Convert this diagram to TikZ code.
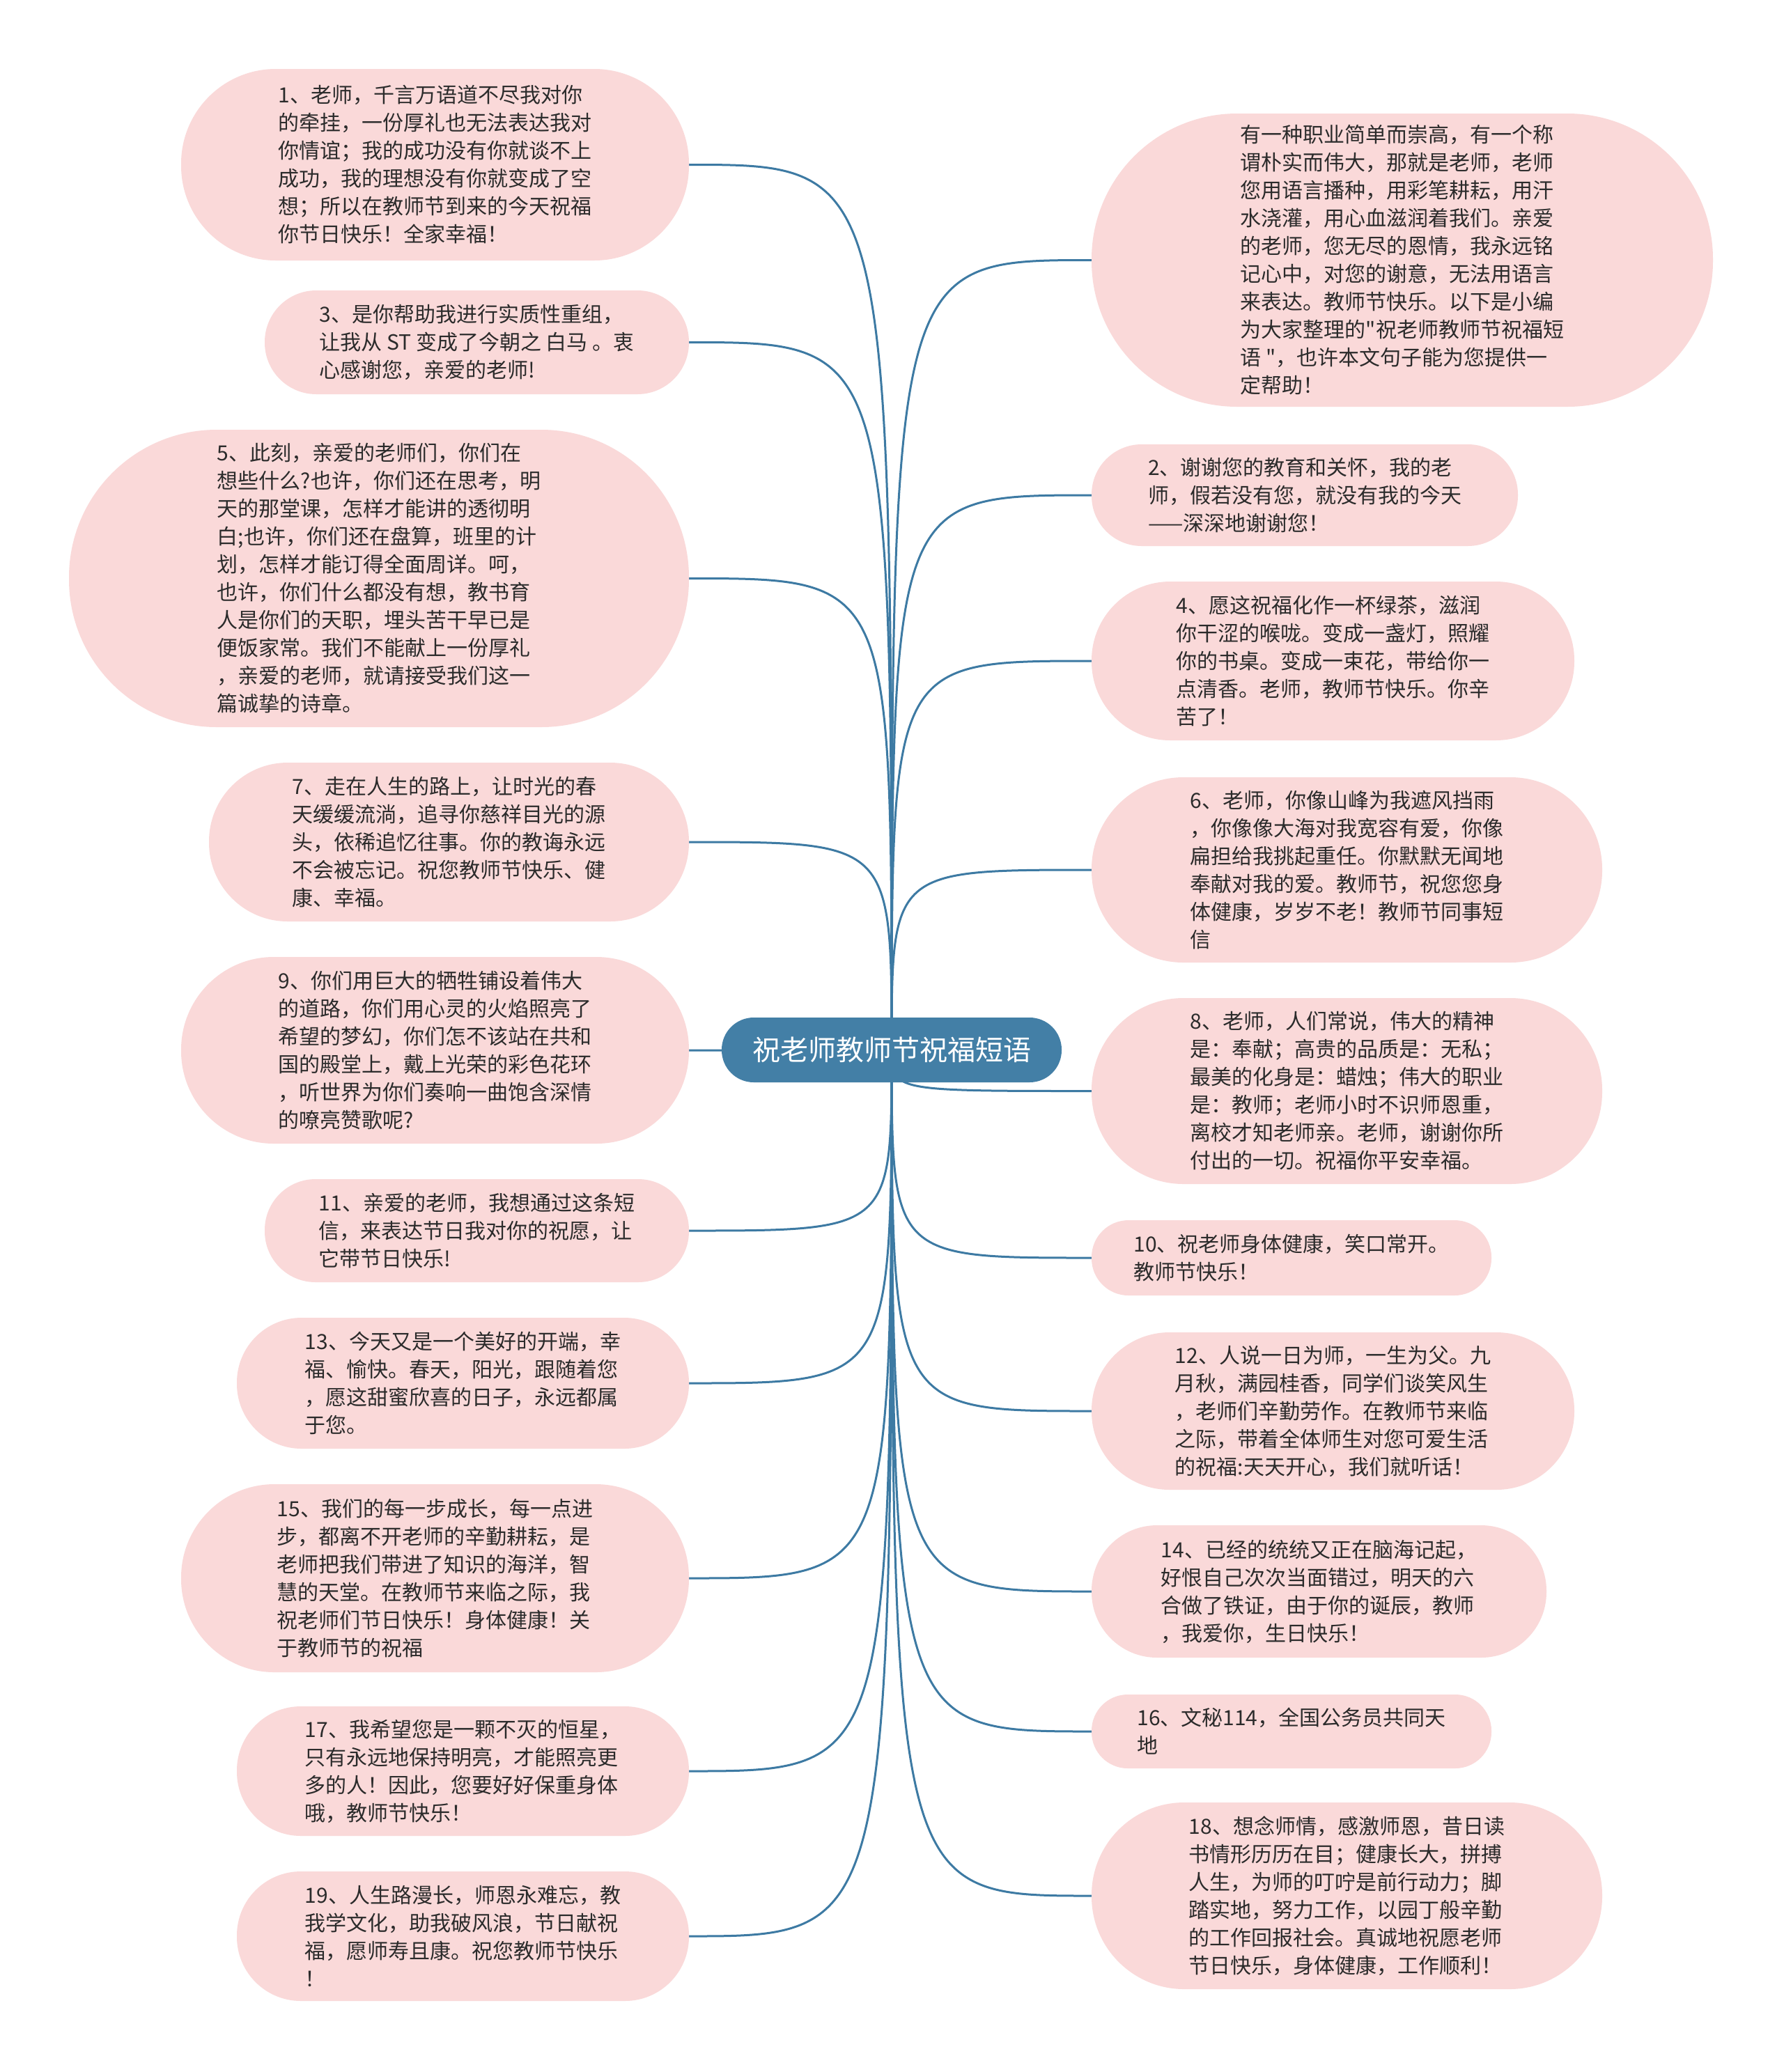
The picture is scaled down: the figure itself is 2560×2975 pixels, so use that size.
\documentclass[tikz,border=0pt]{standalone}
\usepackage{fontspec}
\newfontfamily\cjkf{Noto Sans CJK SC}
\usetikzlibrary{backgrounds}
\definecolor{pinkfill}{HTML}{FAD9D9}
\definecolor{rootfill}{HTML}{437FA6}
\definecolor{linecol}{HTML}{3D7AA3}
\definecolor{txt}{HTML}{2B2B2B}
\tikzset{
  leaf/.style={fill=pinkfill, draw=none, inner sep=0pt, align=left, text=txt,
    font=\cjkf\fontsize{30}{40}\selectfont},
  rootbox/.style={fill=rootfill, draw=none, inner sep=0pt, text=white,
    font=\cjkf\fontsize{40}{48}\selectfont, minimum width=488pt, minimum height=93pt, rounded corners=46pt},
  conn/.style={draw=linecol, line width=3pt}
}
\begin{document}
\begin{tikzpicture}[x=1pt,y=-1pt]
\useasboundingbox (0,0) rectangle (2560,2975);
% central
\node[rootbox] (root) at (1280,1507.5) {祝老师教师节祝福短语};
% left column
\node[leaf, minimum width=729pt, minimum height=275pt, rounded corners=136pt] (n1) at (624.5,236.5) {1、老师，千言万语道不尽我对你\\的牵挂，一份厚礼也无法表达我对\\你情谊；我的成功没有你就谈不上\\成功，我的理想没有你就变成了空\\想；所以在教师节到来的今天祝福\\你节日快乐！全家幸福！};
\node[leaf, minimum width=609pt, minimum height=149pt, rounded corners=74pt] (n3) at (684.5,491.5) {3、是你帮助我进行实质性重组，\\让我从 ST 变成了今朝之 白马 。衷\\心感谢您，亲爱的老师!};
\node[leaf, minimum width=890pt, minimum height=427pt, rounded corners=212pt] (n5) at (544,830.5) {5、此刻，亲爱的老师们，你们在\\想些什么?也许，你们还在思考，明\\天的那堂课，怎样才能讲的透彻明\\白;也许，你们还在盘算，班里的计\\划，怎样才能订得全面周详。呵，\\也许，你们什么都没有想，教书育\\人是你们的天职，埋头苦干早已是\\便饭家常。我们不能献上一份厚礼\\，亲爱的老师，就请接受我们这一\\篇诚挚的诗章。};
\node[leaf, minimum width=689pt, minimum height=228pt, rounded corners=113pt] (n7) at (644.5,1209) {7、走在人生的路上，让时光的春\\天缓缓流淌，追寻你慈祥目光的源\\头，依稀追忆往事。你的教诲永远\\不会被忘记。祝您教师节快乐、健\\康、幸福。};
\node[leaf, minimum width=729pt, minimum height=268pt, rounded corners=133pt] (n9) at (624.5,1508) {9、你们用巨大的牺牲铺设着伟大\\的道路，你们用心灵的火焰照亮了\\希望的梦幻，你们怎不该站在共和\\国的殿堂上，戴上光荣的彩色花环\\，听世界为你们奏响一曲饱含深情\\的嘹亮赞歌呢?};
\node[leaf, minimum width=609pt, minimum height=148pt, rounded corners=73pt] (n11) at (684.5,1767) {11、亲爱的老师，我想通过这条短\\信，来表达节日我对你的祝愿，让\\它带节日快乐!};
\node[leaf, minimum width=649pt, minimum height=188pt, rounded corners=93pt] (n13) at (664.5,1986) {13、今天又是一个美好的开端，幸\\福、愉快。春天，阳光，跟随着您\\，愿这甜蜜欣喜的日子，永远都属\\于您。};
\node[leaf, minimum width=729pt, minimum height=270pt, rounded corners=134pt] (n15) at (624.5,2266) {15、我们的每一步成长，每一点进\\步，都离不开老师的辛勤耕耘，是\\老师把我们带进了知识的海洋，智\\慧的天堂。在教师节来临之际，我\\祝老师们节日快乐！身体健康！关\\于教师节的祝福};
\node[leaf, minimum width=649pt, minimum height=186pt, rounded corners=92pt] (n17) at (664.5,2543) {17、我希望您是一颗不灭的恒星，\\只有永远地保持明亮，才能照亮更\\多的人！因此，您要好好保重身体\\哦，教师节快乐！};
\node[leaf, minimum width=649pt, minimum height=186pt, rounded corners=92pt] (n19) at (664.5,2780) {19、人生路漫长，师恩永难忘，教\\我学文化，助我破风浪，节日献祝\\福，愿师寿且康。祝您教师节快乐\\！};
% right column
\node[leaf, minimum width=892pt, minimum height=421pt, rounded corners=209pt] (na) at (2013,373.5) {有一种职业简单而崇高，有一个称\\谓朴实而伟大，那就是老师，老师\\您用语言播种，用彩笔耕耘，用汗\\水浇灌，用心血滋润着我们。亲爱\\的老师，您无尽的恩情，我永远铭\\记心中，对您的谢意，无法用语言\\来表达。教师节快乐。以下是小编\\为大家整理的"祝老师教师节祝福短\\语 "，也许本文句子能为您提供一\\定帮助！};
\node[leaf, minimum width=612pt, minimum height=146pt, rounded corners=72pt] (n2) at (1873,711) {2、谢谢您的教育和关怀，我的老\\师，假若没有您，就没有我的今天\\——深深地谢谢您！};
\node[leaf, minimum width=693pt, minimum height=228pt, rounded corners=113pt] (n4) at (1913.5,949) {4、愿这祝福化作一杯绿茶，滋润\\你干涩的喉咙。变成一盏灯，照耀\\你的书桌。变成一束花，带给你一\\点清香。老师，教师节快乐。你辛\\苦了！};
\node[leaf, minimum width=733pt, minimum height=266pt, rounded corners=132pt] (n6) at (1933.5,1249) {6、老师，你像山峰为我遮风挡雨\\，你像像大海对我宽容有爱，你像\\扁担给我挑起重任。你默默无闻地\\奉献对我的爱。教师节，祝您您身\\体健康，岁岁不老！教师节同事短\\信};
\node[leaf, minimum width=733pt, minimum height=267pt, rounded corners=132pt] (n8) at (1933.5,1566.5) {8、老师，人们常说，伟大的精神\\是：奉献；高贵的品质是：无私；\\最美的化身是：蜡烛；伟大的职业\\是：教师；老师小时不识师恩重，\\离校才知老师亲。老师，谢谢你所\\付出的一切。祝福你平安幸福。};
\node[leaf, minimum width=574pt, minimum height=108pt, rounded corners=53pt] (n10) at (1854,1806) {10、祝老师身体健康，笑口常开。\\教师节快乐！};
\node[leaf, minimum width=693pt, minimum height=226pt, rounded corners=112pt] (n12) at (1913.5,2026) {12、人说一日为师，一生为父。九\\月秋，满园桂香，同学们谈笑风生\\，老师们辛勤劳作。在教师节来临\\之际，带着全体师生对您可爱生活\\的祝福:天天开心，我们就听话！};
\node[leaf, minimum width=653pt, minimum height=190pt, rounded corners=94pt] (n14) at (1893.5,2285) {14、已经的统统又正在脑海记起，\\好恨自己次次当面错过，明天的六\\合做了铁证，由于你的诞辰，教师\\，我爱你，生日快乐！};
\node[leaf, minimum width=574pt, minimum height=106pt, rounded corners=52pt] (n16) at (1854,2486) {16、文秘114，全国公务员共同天\\地};
\node[leaf, minimum width=733pt, minimum height=268pt, rounded corners=133pt] (n18) at (1933.5,2722) {18、想念师情，感激师恩，昔日读\\书情形历历在目；健康长大，拼搏\\人生，为师的叮咛是前行动力；脚\\踏实地，努力工作，以园丁般辛勤\\的工作回报社会。真诚地祝愿老师\\节日快乐，身体健康，工作顺利！};
% connectors
\begin{pgfonlayer}{background}
\fill[white] (0,0) rectangle (2560,2975);
\foreach \n in {n1,n3,n5,n7,n9,n11,n13,n15,n17,n19}{
  \draw[conn] (root.center) .. controls (root.center |- \n.east) .. (\n.east);
}
\foreach \n in {na,n2,n4,n6,n8,n10,n12,n14,n16,n18}{
  \draw[conn] (root.center) .. controls (root.center |- \n.west) .. (\n.west);
}
\end{pgfonlayer}
\end{tikzpicture}
\end{document}
